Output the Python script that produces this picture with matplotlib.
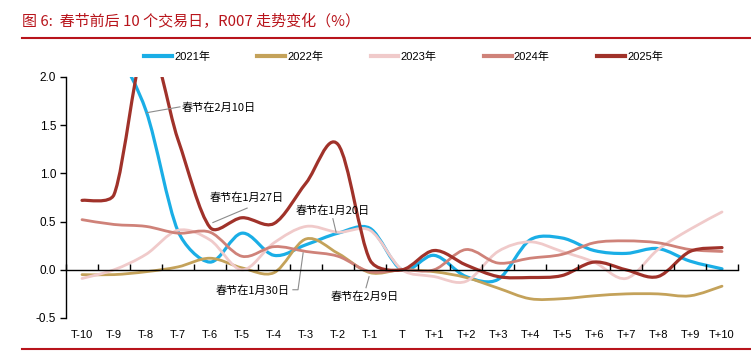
import matplotlib.pyplot as plt
import numpy as np
from matplotlib.path import Path
from matplotlib.patches import PathPatch

plt.rcParams['font.family'] = ['Liberation Sans', 'Noto Sans CJK SC']

# jours de bourse autour du Nouvel An chinois
cats = ['T-10', 'T-9', 'T-8', 'T-7', 'T-6', 'T-5', 'T-4', 'T-3', 'T-2', 'T-1', 'T',
        'T+1', 'T+2', 'T+3', 'T+4', 'T+5', 'T+6', 'T+7', 'T+8', 'T+9', 'T+10']

y2021 = [2.5, 2.3, 1.65, 0.40, 0.08, 0.38, 0.15, 0.26, 0.38, 0.43, 0.0,
         0.15, -0.07, -0.10, 0.31, 0.33, 0.20, 0.17, 0.22, 0.09, 0.01]
y2022 = [-0.05, -0.05, -0.02, 0.03, 0.12, 0.02, -0.03, 0.32, 0.17, -0.03, 0.0,
         -0.02, -0.08, -0.19, -0.30, -0.30, -0.27, -0.25, -0.25, -0.27, -0.17]
y2023 = [-0.09, 0.0, 0.16, 0.41, 0.31, 0.0, 0.28, 0.45, 0.39, 0.41, 0.0,
         -0.07, -0.12, 0.19, 0.29, 0.19, 0.08, -0.09, 0.21, 0.42, 0.60]
y2024 = [0.52, 0.47, 0.45, 0.38, 0.39, 0.14, 0.24, 0.19, 0.14, -0.02, 0.0,
         0.0, 0.21, 0.07, 0.12, 0.16, 0.28, 0.30, 0.28, 0.21, 0.19]
y2025 = [0.72, 0.78, 2.35, 1.35, 0.44, 0.54, 0.48, 0.90, 1.30, 0.10, 0.0,
         0.20, 0.05, -0.07, -0.08, -0.06, 0.08, 0.0, -0.07, 0.19, 0.23]

series = [('2021年', y2021, '#1AAEE6', 2.3),
          ('2022年', y2022, '#C4A25A', 2.0),
          ('2023年', y2023, '#F0CACA', 2.0),
          ('2024年', y2024, '#CF8279', 2.0),
          ('2025年', y2025, '#A0322A', 2.3)]

RATIO = 96.6 / 32  # pixels par unite y / pixels par categorie


def courbe_lissee(ax, ys, color, lw):
    # courbe lissee facon Excel (Bezier cubique)
    n = len(ys)
    p = np.column_stack([np.arange(n), ys]).astype(float)
    s = p * [1, RATIO]

    def d(a, b):
        return np.hypot(*(s[b] - s[a]))

    verts = [p[0]]
    codes = [Path.MOVETO]
    for i in range(n - 1):
        i0 = max(i - 1, 0)
        i3 = min(i + 2, n - 1)
        d12 = d(i, i + 1)
        f1 = min(1 / 6, d12 / (3 * d(i0, i + 1)))
        f2 = min(1 / 6, d12 / (3 * d(i, i3)))
        c1 = p[i] + (p[i + 1] - p[i0]) * f1
        c2 = p[i + 1] - (p[i3] - p[i]) * f2
        verts += [c1, c2, p[i + 1]]
        codes += [Path.CURVE4] * 3
    patch = PathPatch(Path(verts, codes), fill=False, edgecolor=color, lw=lw,
                      capstyle='round', joinstyle='round')
    ax.add_patch(patch)
    return patch


fig = plt.figure(figsize=(7.51, 3.52), dpi=100)
ax = fig.add_axes([0.0879, 0.0966, 0.8948, 0.6847])

for nom, ys, col, lw in series:
    courbe_lissee(ax, ys, col, lw)
    ax.plot([], [], color=col, lw=3, label=nom)

ax.set_xlim(-0.5, len(cats) - 0.5)
ax.set_ylim(-0.5, 2.0)
ax.set_yticks([-0.5, 0.0, 0.5, 1.0, 1.5, 2.0])
ax.set_yticklabels(['-0.5', '0.0', '0.5', '1.0', '1.5', '2.0'])

ax.spines['top'].set_visible(False)
ax.spines['right'].set_visible(False)
ax.spines['bottom'].set_position(('data', 0))
ax.spines['left'].set_linewidth(1)
ax.spines['bottom'].set_linewidth(1)

ax.set_xticks(np.arange(len(cats)))
ax.set_xticklabels(cats)
ax.set_xticks(np.arange(len(cats) + 1) - 0.5, minor=True)
ax.tick_params(axis='x', which='major', length=0, pad=43, labelsize=8)
ax.tick_params(axis='x', which='minor', direction='in', length=4, width=1)
ax.tick_params(axis='y', direction='out', length=4, width=1, labelsize=8.5, pad=3)

# annotations : texte + trait gris
fa = dict(fontsize=8, family=['Noto Sans CJK SC'], color='black', va='center')
gris = dict(color='#8C8C8C', lw=0.8)
ax.text(3.12, 1.68, '春节在2月10日', ha='left', **fa)
ax.plot([2.03, 3.06], [1.63, 1.69], **gris)
ax.text(4.0, 0.745, '春节在1月27日', ha='left', **fa)
ax.plot([4.09, 5.16], [0.49, 0.64], **gris)
ax.text(6.69, 0.61, '春节在1月20日', ha='left', **fa)
ax.plot([7.94, 7.84], [0.39, 0.53], **gris)
ax.text(6.5, -0.215, '春节在1月30日', ha='right', **fa)
ax.plot([6.91, 6.75, 6.59], [0.176, -0.207, -0.207], **gris)
ax.text(7.78, -0.28, '春节在2月9日', ha='left', **fa)
ax.plot([8.97, 8.875], [-0.072, -0.186], **gris)

leg = fig.legend(loc='center left', bbox_to_anchor=(0.192, 0.838), ncol=5, frameon=False,
                 fontsize=8, handlelength=2.5, handletextpad=0.2, columnspacing=4.25,
                 borderpad=0, borderaxespad=0)

# titre et filets rouges
rouge = '#B8141B'
fig.text(22 / 751, 1 - 21 / 352, '图 6:  春节前后 10 个交易日，R007 走势变化（%）', color=rouge,
         fontsize=10.8, va='center', ha='left', family=['Noto Sans CJK SC'])
fig.add_artist(plt.Line2D([22 / 751, 1], [1 - 38 / 352, 1 - 38 / 352], color=rouge, lw=1.5))
fig.add_artist(plt.Line2D([22 / 751, 1], [1 - 349 / 352, 1 - 349 / 352], color=rouge, lw=1.5))

fig.savefig('out.png', dpi=100)
